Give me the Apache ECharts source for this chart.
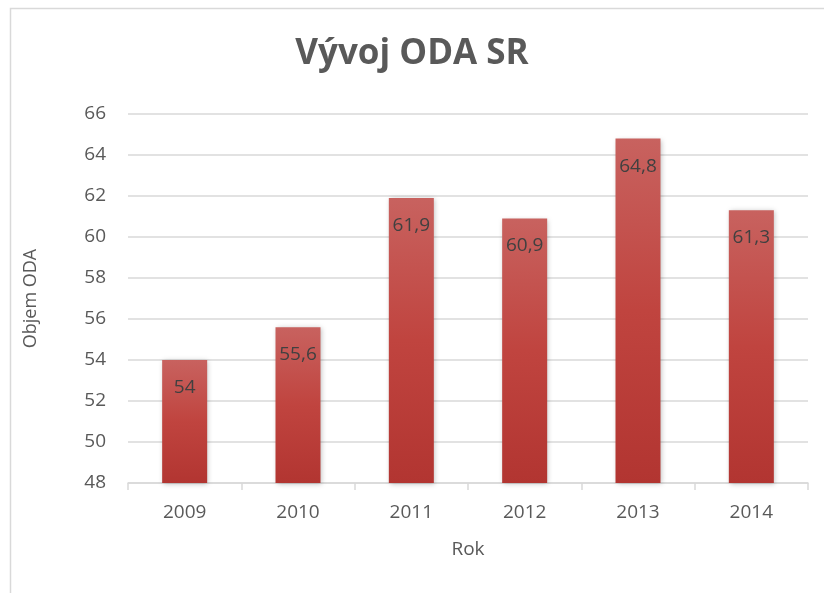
<!DOCTYPE html>
<html><head><meta charset="utf-8">
<script src="https://cdn.jsdelivr.net/npm/echarts@6/dist/echarts.min.js"></script>
<style>html,body{margin:0;padding:0;background:#fff}#c{width:824px;height:593px}</style>
</head><body><div id="c"></div>
<script>
var categories = ['2009','2010','2011','2012','2013','2014'];
var values = [54, 55.6, 61.9, 60.9, 64.8, 61.3];
var titleText = 'Vývoj ODA SR';
var yName = 'Objem ODA';
var xName = 'Rok';

var chart = echarts.init(document.getElementById('c'));
var font = '"Open Sans", "Noto Sans", sans-serif';
chart.setOption({
  animation: false,
  graphic: [{type:'rect', shape:{x:10.5,y:8.5,width:900,height:700}, style:{fill:'none', stroke:'#d9d9d9', lineWidth:1.5}}],
  title: {text: titleText, left: 'center', top: 32, textStyle:{fontFamily: font, fontSize: 35, fontWeight:'bold', color:'#595959'}},
  grid: {left:128, right:16, top:114, bottom:110},
  xAxis: {type:'category', data: categories, name: xName, nameLocation:'middle', nameGap: 57,
    nameTextStyle:{fontFamily:font, fontSize:19, color:'#595959'},
    axisLine:{lineStyle:{color:'#d9d9d9', width:1.5}},
    axisTick:{show:true, length:7, lineStyle:{color:'#d9d9d9', width:1.5}},
    axisLabel:{fontFamily:font, fontSize:19, color:'#595959', margin:20}},
  yAxis: {type:'value', min:48, max:66, interval:2, name: yName, nameLocation:'middle', nameGap: 88,
    nameTextStyle:{fontFamily:font, fontSize:18, color:'#595959'},
    axisLine:{show:false}, axisTick:{show:false},
    splitLine:{lineStyle:{color:'#d9d9d9', width:1.5}},
    axisLabel:{fontFamily:font, fontSize:19, color:'#595959', margin:22}},
  series: [{type:'bar', data: values, barWidth: 45,
    itemStyle:{color: new echarts.graphic.LinearGradient(0,0,0,1,[{offset:0,color:'#c8625f'},{offset:0.5,color:'#c0443f'},{offset:1,color:'#b23531'}]),
      shadowColor:'rgba(0,0,0,0.25)', shadowBlur:5, shadowOffsetX:1, shadowOffsetY:1},
    label:{show:true, position:'insideTop', distance:18, fontFamily:font, fontSize:19, color:'#404040',
      formatter: function(p){return String(p.value).replace('.', ',');}}}]
});
</script></body></html>
